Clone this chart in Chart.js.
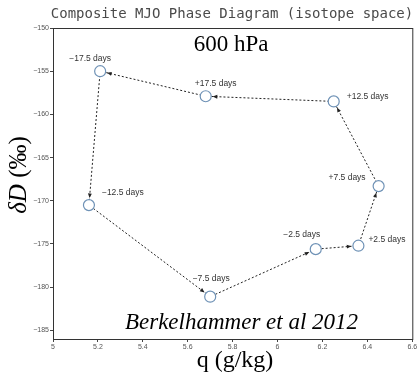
<!DOCTYPE html>
<html lang="en">
<head>
    <meta charset="UTF-8">
    <title>Composite MJO Phase Diagram (isotope space)</title>
    <script src="https://cdn.jsdelivr.net/npm/chart.js"></script>
    <style>
        html, body { margin: 0; padding: 0; background: #fff; }
        #wrap { width: 419px; height: 377px; position: relative; }
    </style>
</head>
<body>
    <div id="wrap"><canvas id="mjoChart" width="419" height="377"></canvas></div>

    <script>
        // phases along the composite cycle
        const phaseLabels = ["\u221217.5 days", "\u221212.5 days", "\u22127.5 days", "\u22122.5 days",
                             "+2.5 days", "+7.5 days", "+12.5 days", "+17.5 days"];
        const qValues = [5.21, 5.16, 5.70, 6.17, 6.36, 6.45, 6.25, 5.68];
        const dDValues = [-155.0, -170.5, -181.1, -175.6, -175.2, -168.3, -158.5, -157.9];
        const xTicks = [5, 5.2, 5.4, 5.6, 5.8, 6, 6.2, 6.4, 6.6];
        const yTicks = [-185, -180, -175, -170, -165, -160, -155, -150];

        const points = qValues.map((q, i) => ({ x: q, y: dDValues[i] }));
        const loop = points.concat([points[0]]);

        // label placement next to each circle: [dx, dy, align]
        const labelPos = [
            [-10, -13, "center"], [13, -12, "left"], [1, -18, "center"], [-14, -14, "center"],
            [10, -6, "left"], [-13, -8, "right"], [13, -5, "left"], [10, -13, "center"]
        ];
        const R = 5.5;

        const decorPlugin = {
            id: "decor",
            afterDatasetsDraw(chart) {
                const ctx = chart.ctx;
                const xs = chart.scales.x, ys = chart.scales.y;
                const a = chart.chartArea;
                ctx.save();
                // arrow heads at the end of every segment
                ctx.fillStyle = "#222";
                for (let i = 0; i < loop.length - 1; i++) {
                    const x0 = xs.getPixelForValue(loop[i].x), y0 = ys.getPixelForValue(loop[i].y);
                    const x1 = xs.getPixelForValue(loop[i + 1].x), y1 = ys.getPixelForValue(loop[i + 1].y);
                    const ang = Math.atan2(y1 - y0, x1 - x0);
                    const tx = x1 - Math.cos(ang) * (R + 1.5), ty = y1 - Math.sin(ang) * (R + 1.5);
                    ctx.beginPath();
                    ctx.moveTo(tx, ty);
                    ctx.lineTo(tx - Math.cos(ang - 0.4) * 5, ty - Math.sin(ang - 0.4) * 5);
                    ctx.lineTo(tx - Math.cos(ang + 0.4) * 5, ty - Math.sin(ang + 0.4) * 5);
                    ctx.closePath();
                    ctx.fill();
                }
                // phase labels
                ctx.fillStyle = "#333";
                ctx.font = "8.5px 'Liberation Sans', sans-serif";
                ctx.textBaseline = "middle";
                points.forEach((p, i) => {
                    const px = xs.getPixelForValue(p.x), py = ys.getPixelForValue(p.y);
                    ctx.textAlign = labelPos[i][2];
                    ctx.fillText(phaseLabels[i], px + labelPos[i][0], py + labelPos[i][1]);
                });
                // frame
                ctx.strokeStyle = "#333";
                ctx.lineWidth = 1;
                ctx.strokeRect(a.left + 0.5, a.top + 0.5, a.right - a.left, a.bottom - a.top);
                // texts
                ctx.fillStyle = "#4a4a4a";
                ctx.textAlign = "center";
                ctx.textBaseline = "middle";
                ctx.font = "14px 'DejaVu Sans Mono', monospace";
                ctx.fillText("Composite MJO Phase Diagram (isotope space)", 232, 14);
                ctx.fillStyle = "#000";
                ctx.font = "23px 'Liberation Serif', serif";
                ctx.fillText("600 hPa", 231, 45);
                ctx.font = "italic 23px 'Liberation Serif', serif";
                ctx.fillText("Berkelhammer et al 2012", 241.5, 323);
                ctx.font = "24px 'Liberation Serif', serif";
                ctx.fillText("q (g/kg)", 235, 361);
                // y title
                ctx.translate(19, 175);
                ctx.rotate(-Math.PI / 2);
                ctx.font = "italic 25px 'Liberation Serif', serif";
                const w1 = ctx.measureText("\u03b4D").width;
                ctx.font = "25px 'Liberation Serif', serif";
                const w2 = ctx.measureText(" (\u2030)").width;
                ctx.textAlign = "left";
                ctx.font = "italic 25px 'Liberation Serif', serif";
                ctx.fillText("\u03b4D", -(w1 + w2) / 2, 0);
                ctx.font = "25px 'Liberation Serif', serif";
                ctx.fillText(" (\u2030)", -(w1 + w2) / 2 + w1, 0);
                ctx.restore();
            }
        };

        new Chart(document.getElementById("mjoChart"), {
            type: "scatter",
            data: {
                datasets: [{
                    data: loop,
                    showLine: true,
                    borderColor: "#222",
                    borderWidth: 1,
                    borderDash: [2, 2],
                    pointRadius: 0,
                    order: 2
                }, {
                    data: points,
                    pointRadius: R,
                    pointBorderWidth: 1.2,
                    pointBorderColor: "#6f92b6",
                    pointBackgroundColor: "#fff",
                    order: 1
                }]
            },
            options: {
                responsive: false,
                animation: false,
                layout: { padding: { top: 28, right: 6, left: 0, bottom: 0 } },
                plugins: { legend: { display: false }, tooltip: { enabled: false } },
                scales: {
                    x: {
                        type: "linear",
                        min: 5, max: 6.6,
                        afterBuildTicks: s => { s.ticks = xTicks.map(v => ({ value: v })); },
                        afterFit: s => { s.height = 38; },
                        ticks: {
                            font: { size: 7, family: "'Liberation Sans', sans-serif" },
                            color: "#555", padding: 1, maxRotation: 0,
                            callback: v => String(v)
                        },
                        grid: { drawOnChartArea: false, tickLength: 3, color: "#444" },
                        border: { color: "#333" }
                    },
                    y: {
                        type: "linear",
                        min: -186, max: -150,
                        afterBuildTicks: s => { s.ticks = yTicks.map(v => ({ value: v })); },
                        afterFit: s => { s.width = 53; },
                        ticks: {
                            font: { size: 7, family: "'Liberation Sans', sans-serif" },
                            color: "#555", padding: 1,
                            callback: v => String(v).replace("-", "\u2212")
                        },
                        grid: { drawOnChartArea: false, tickLength: 3, color: "#444" },
                        border: { color: "#333" }
                    }
                }
            },
            plugins: [decorPlugin]
        });
    </script>
</body>
</html>
